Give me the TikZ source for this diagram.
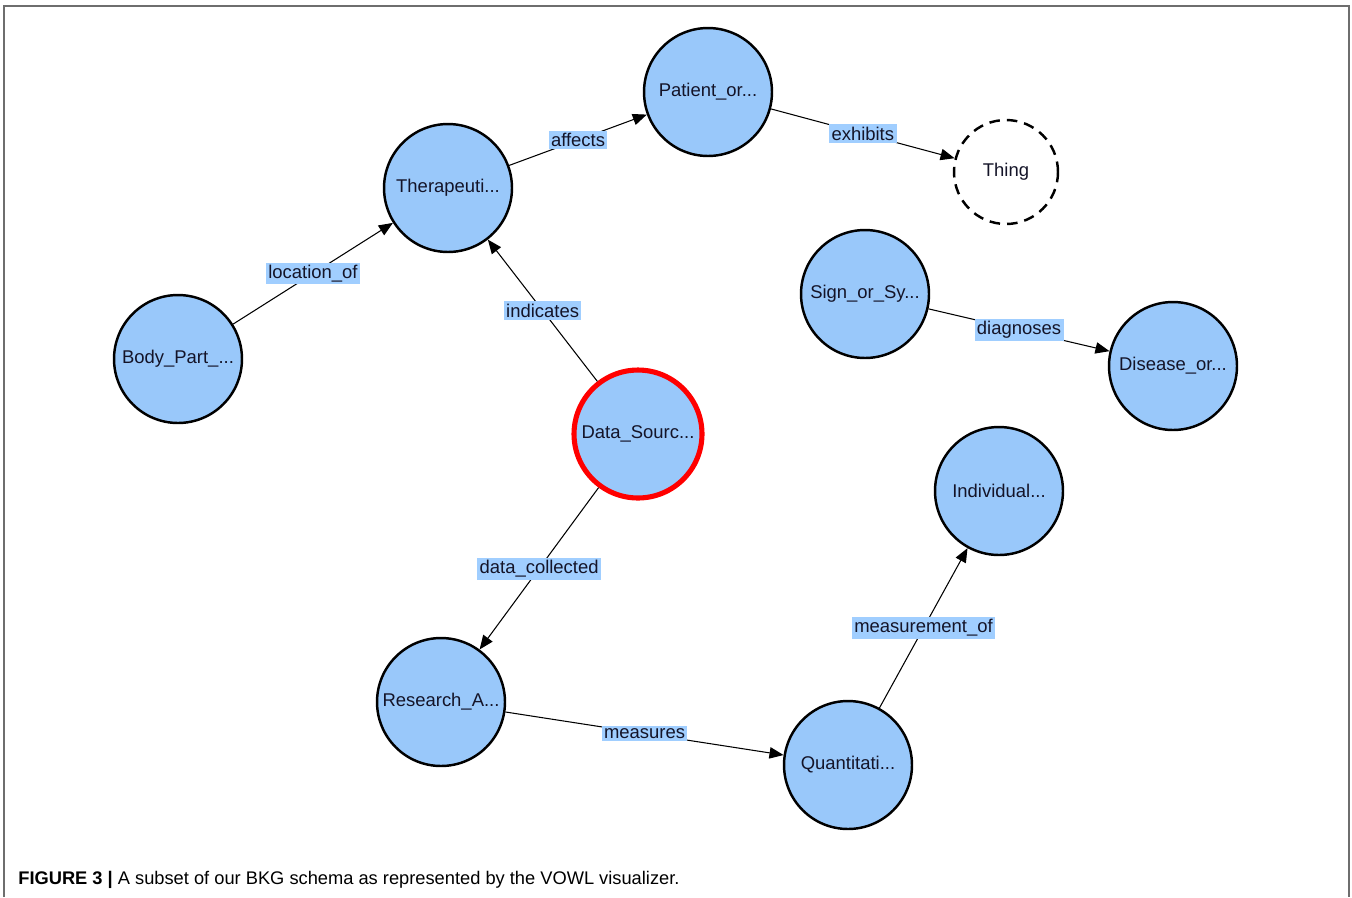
\documentclass[tikz,border=0pt]{standalone}
\usepackage{fontspec}
\setmainfont{Liberation Sans}
\usetikzlibrary{arrows.meta}
\definecolor{clsblue}{RGB}{153,200,250}
\definecolor{lblblue}{RGB}{160,206,255}
\definecolor{txtdark}{RGB}{20,20,40}
\definecolor{framegray}{RGB}{110,110,110}

\begin{document}
\begin{tikzpicture}[
    x=0.02cm, y=-0.02cm,
    cls/.style={circle, draw=black, fill=clsblue, line width=1.4pt,
        minimum size=2.56cm, inner sep=0pt, font=\fontsize{10.5}{12}\selectfont,
        text=txtdark},
    thingcls/.style={circle, draw=black, dashed, dash pattern=on 6pt off 4pt,
        line width=1.4pt, minimum size=2.08cm, inner sep=0pt,
        font=\fontsize{10.5}{12}\selectfont, text=txtdark},
    datacls/.style={cls, draw=red, line width=2.9pt},
    rel/.style={-{Triangle[length=8pt,width=6.5pt]}, line width=0.6pt, black},
    lbl/.style={fill=lblblue, inner sep=1.4pt, text=txtdark,
        font=\fontsize{10.5}{12}\selectfont}
]
\useasboundingbox (0,0) rectangle (1352,897);
% frame
\draw[framegray, line width=1.1pt] (4,897) -- (4,6) -- (1349,6) -- (1349,897);

% classes
\node[cls] (therapeutic) at (448,188) {Therapeuti...};
\node[cls] (patient) at (708,92) {Patient\_or...};
\node[thingcls] (thing) at (1006,172) {Thing};
\node[cls] (bodypart) at (178,359) {Body\_Part\_...};
\node[cls] (sign) at (865,294) {Sign\_or\_Sy...};
\node[cls] (disease) at (1173,366) {Disease\_or...};
\node[datacls] (datasource) at (638,434) {Data\_Sourc...};
\node[cls] (individual) at (999,491) {Individual...};
\node[cls] (research) at (441,702) {Research\_A...};
\node[cls] (quantitative) at (848,765) {Quantitati...};

% properties
\draw[rel] (therapeutic) -- node[lbl] {affects} (patient);
\draw[rel] (patient) -- node[lbl] {exhibits} (thing);
\draw[rel] (bodypart) -- node[lbl] {location\_of} (therapeutic);
\draw[rel] (datasource) -- node[lbl] {indicates} (therapeutic);
\draw[rel] (sign) -- node[lbl] {diagnoses} (disease);
\draw[rel] (datasource) -- node[lbl] {data\_collected} (research);
\draw[rel] (research) -- node[lbl] {measures} (quantitative);
\draw[rel] (quantitative) -- node[lbl] {measurement\_of} (individual);

% caption
\node[anchor=west, inner sep=0pt, font=\fontsize{10.4}{12}\selectfont] (caption) at (18,880)
    {\textbf{FIGURE 3 |} A subset of our BKG schema as represented by the VOWL visualizer.};
\end{tikzpicture}
\end{document}
